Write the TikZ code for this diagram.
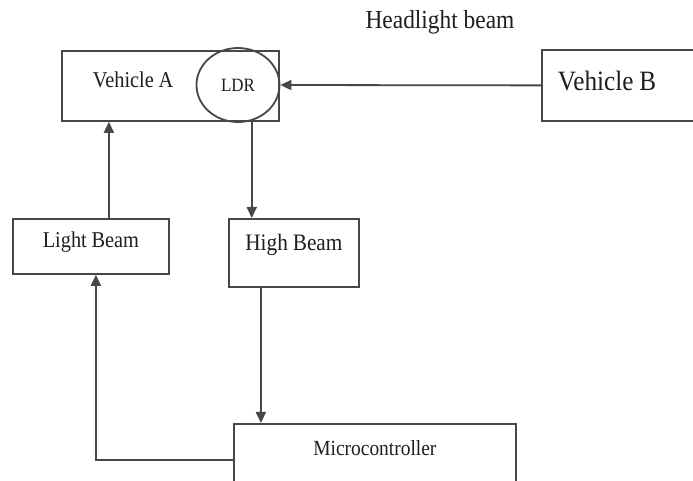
\documentclass[tikz,border=0pt]{standalone}
\usepackage{fontspec}
\setmainfont[FakeStretch=0.9]{Liberation Serif}
\usepackage{xcolor}
\usepackage{tikz}
\usetikzlibrary{arrows.meta,positioning,shapes.geometric,calc}
\definecolor{ink}{HTML}{1E1E1E}
\definecolor{wire}{HTML}{474747}
\tikzset{
  blk/.style={draw=wire,line width=0.9pt,fill=white,inner sep=0pt,align=center,text=ink,anchor=north west,
    execute at begin node={\spaceskip=0.21em\relax}},
  sens/.style={ellipse,draw=wire,line width=0.9pt,inner sep=0pt,text=ink,minimum width=41.5pt,minimum height=37pt},
  lab/.style={text=ink},
  arr/.style={-{Triangle[length=5.5pt,width=5pt]},draw=wire,line width=0.9pt},
}
\begin{document}
\begin{tikzpicture}[x=0.5pt,y=-0.5pt]
  \useasboundingbox (0,0) rectangle (693,481);
  \begin{scope}
  \clip (0,0) rectangle (693,481);
  \node[lab,font=\fontsize{13}{15}\selectfont] (hl) at (440,22) {Headlight beam};
  \node[blk,font=\fontsize{11.3}{13}\selectfont,align=left,inner xsep=15.5pt,text width=77.5pt,text height=18.5pt,text depth=16.5pt] (va) at (61,50) {Vehicle A};
  \node[sens,font=\fontsize{9.4}{11}\selectfont] (ldr) at (238,85) {LDR};
  \node[blk,font=\fontsize{14}{16}\selectfont,align=left,inner xsep=8pt,text width=81.5pt,text height=20.5pt,text depth=15pt] (vb) at (541,49) {Vehicle B};
  \node[blk,font=\fontsize{11.3}{13}\selectfont,text width=78pt,text height=14.5pt,text depth=13pt] (lb) at (12,218) {Light Beam};
  \node[blk,font=\fontsize{11.8}{13}\selectfont,text width=65pt,text height=16pt,text depth=18pt] (hb) at (228,218) {High Beam};
  \node[blk,font=\fontsize{10.8}{13}\selectfont,text width=141pt,text height=16pt,text depth=20pt] (mc) at (233,423) {Microcontroller};
  \draw[arr] (vb.west) -- (ldr.east);
  \draw[arr] ([xshift=9pt]lb.north) -- ([xshift=9pt]lb.north |- va.south);
  \draw[arr] (ldr.-69) -- (ldr.-69 |- hb.north);
  \draw[arr] ([xshift=-16.5pt]hb.south) -- ([xshift=-16.5pt]hb.south |- mc.north);
  \draw[arr] (mc.west) -| ([xshift=2.5pt]lb.south);
  \end{scope}
\end{tikzpicture}
\end{document}
